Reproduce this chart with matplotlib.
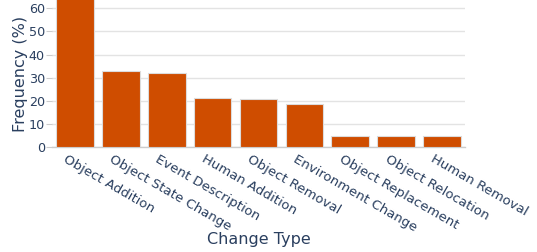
import matplotlib
matplotlib.use("Agg")
import matplotlib.pyplot as plt
import matplotlib.transforms as mtransforms

categories = ["Object Addition", "Object State Change", "Event Description", "Human Addition",
              "Object Removal", "Environment Change", "Object Replacement", "Object Relocation",
              "Human Removal"]
frequency = [68.0, 33.0, 31.9, 21.3, 20.9, 18.5, 4.9, 4.9, 4.6]
yticks = [0, 10, 20, 30, 40, 50, 60]

W, H = 537, 252
fig = plt.figure(figsize=(W / 100, H / 100), dpi=100)
ax = fig.add_axes([52 / W, 1 - 147 / H, (465 - 52) / W, 147 / H])

txt = "#2a3f5f"
x = list(range(len(categories)))
ax.bar(x, frequency, width=0.82, color="#cf4d00", edgecolor="#dcdcdc", linewidth=0.8, zorder=3)
ax.set_xlim(-0.5, len(categories) - 0.5)
ax.set_ylim(0, 63.6)
ax.set_yticks(yticks)
ax.yaxis.grid(True, color="#e3e3e3", linewidth=1.0, zorder=0)
ax.set_axisbelow(True)
for s in ["top", "right", "left"]:
    ax.spines[s].set_visible(False)
ax.spines["bottom"].set_color("#cccccc")
ax.spines["bottom"].set_linewidth(1.0)
ax.tick_params(axis="y", length=4, width=0.8, color="#cccccc", pad=1, labelsize=9.2, labelcolor=txt)
ax.tick_params(axis="x", length=0, pad=4)
ax.set_xticks(x)
ax.set_xticklabels(categories, rotation=-30, ha="left", va="top", rotation_mode="anchor",
                   fontsize=9.5, color=txt)
offset = mtransforms.ScaledTranslation(-7 / 100, 0, fig.dpi_scale_trans)
for lab in ax.get_xticklabels():
    lab.set_transform(lab.get_transform() + offset)
ax.set_xlabel("Change Type", fontsize=11.5, color=txt)
ax.set_ylabel("Frequency (%)", fontsize=11.5, color=txt)
ax.xaxis.set_label_coords(0.5, -0.58)
ax.yaxis.set_label_coords(-0.058, 0.5)

fig.savefig("out.png", dpi=100)
